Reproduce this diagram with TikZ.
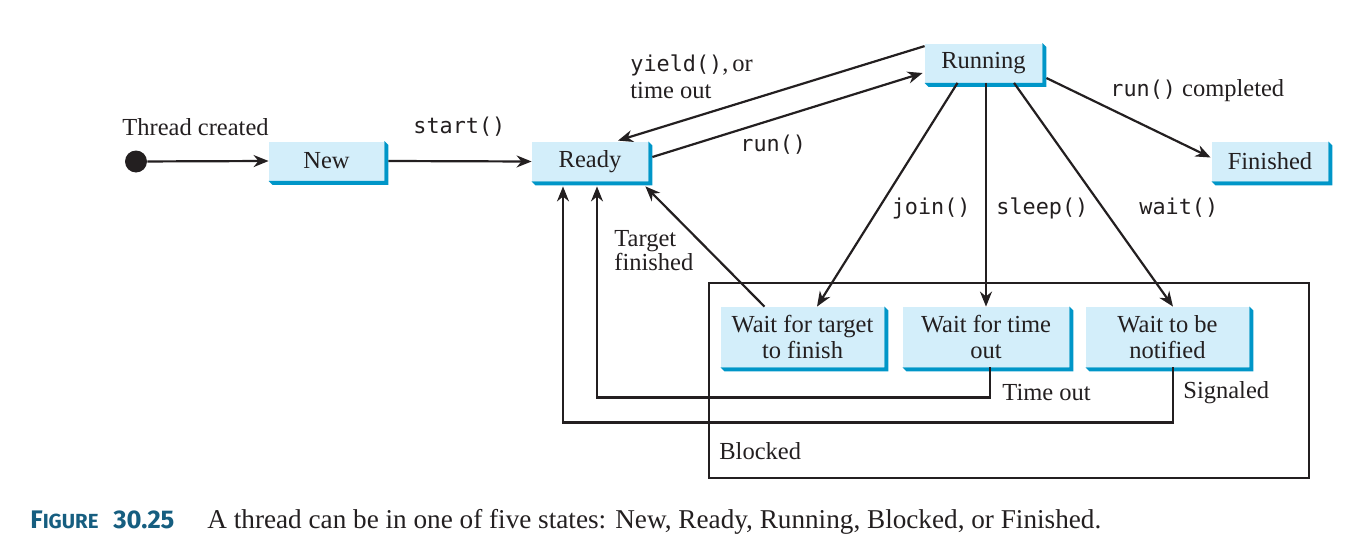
\documentclass[tikz,border=0pt]{standalone}
\usepackage{fontspec}
\setmainfont{Liberation Serif}
\newfontfamily\monof{DejaVu Sans Mono}
\newfontfamily\capf{Fira Sans}
\usetikzlibrary{arrows.meta}
\definecolor{boxfill}{HTML}{D3EEFA}
\definecolor{boxshade}{HTML}{0096C8}
\definecolor{figteal}{HTML}{165E80}
\definecolor{ink}{HTML}{231F20}
\newcommand{\mc}[1]{{\monof\fontsize{10.9}{13}\selectfont #1}}
\newcommand{\shd}[1]{\fill[boxshade] (#1.north east) -- ([shift={(2pt,-2pt)}]#1.north east) -- ([shift={(2pt,-2pt)}]#1.south east) -- ([shift={(2pt,-2pt)}]#1.south west) -- (#1.south west) -- (#1.south east) -- cycle;}
\begin{document}
\begin{tikzpicture}[x=0.5pt,y=-0.5pt,
  state/.style={rectangle, fill=boxfill, inner sep=0pt, text=ink, font=\fontsize{12.25}{13}\selectfont, align=center, minimum height=19.5pt},
  tall/.style={minimum height=30pt},
  lbl/.style={inner sep=0pt, text=ink, font=\fontsize{12.25}{12}\selectfont, align=left},
  conn/.style={draw=ink, line width=1.1pt, -{Stealth[length=7.5pt,width=6pt,inset=2.4pt]}},
  frame/.style={draw=ink, line width=0.9pt, inner sep=0pt},
  figlbl/.style={inner sep=0pt, anchor=base west, text=figteal}
]
\useasboundingbox (0,0) rectangle (1372,557);

% Blocked frame
\node[frame, minimum width=300pt, minimum height=97.5pt] (blk) at (1009,380.5) {};
\node[lbl, anchor=west] (blkl) at (719,451) {Blocked};

% states
\node[circle, fill=ink, minimum size=11pt, inner sep=0pt] (start) at (136,161.5) {};
\node[state, minimum width=57.5pt] (new) at (326.5,161) {New};
\node[state, minimum width=58pt] (ready) at (590,161.5) {Ready};
\node[state, minimum width=58.5pt] (running) at (983.5,63) {Running};
\node[state, minimum width=58pt] (finished) at (1270,161.5) {Finished};
\node[state, tall, minimum width=81.5pt] (target) at (802.5,337) {Wait for target\\to finish};
\node[state, tall, minimum width=83pt] (timeout) at (986,337) {Wait for time\\out};
\node[state, tall, minimum width=81.5pt] (notified) at (1167.5,337) {Wait to be\\notified};
\foreach \n in {new,ready,running,finished,target,timeout,notified} {\shd{\n}}

% connectors
\draw[conn] (start) -- (new.west);
\draw[conn] ([xshift=2pt]new.east) -- (ready.west);
\draw[conn] ([yshift=-1.5pt]running.north west) -- ([shift={(14pt,0.5pt)}]ready.north);
\draw[conn] ([shift={(2pt,2.25pt)}]ready.east) -- ([shift={(-1pt,-5pt)}]running.west);
\draw[conn] ([shift={(2pt,-7.5pt)}]running.east) -- ([shift={(-0.5pt,2pt)}]finished.west);
\draw[conn] ([xshift=-13pt]running.south) -- ([xshift=7.25pt]target.north);
\draw[conn] ([xshift=1.25pt]running.south) -- (timeout.north);
\draw[conn] ([xshift=15.25pt]running.south) -- ([xshift=2.75pt]notified.north);
\draw[conn] ([xshift=-19pt]target.north) -- ([shift={(-1.5pt,-2.5pt)}]ready.south east);
\draw[conn] ([xshift=2pt]timeout.south) -- ++(0,30) -| ([shift={(3.5pt,-2.5pt)}]ready.south);
\draw[conn] ([xshift=2.75pt]notified.south) -- ++(0,55) -| ([shift={(-13.5pt,-2.5pt)}]ready.south);

% labels
\node[lbl, anchor=west] (lcreated) at (122,127) {Thread created};
\node[lbl, anchor=west] (lstart) at (413,127) {\mc{start()}};
\node[lbl, anchor=west, font=\fontsize{12.25}{13.5}\selectfont] (lyield) at (630,76.5) {\mc{yield()},\,or\\time out};
\node[lbl, anchor=west] (lrun) at (740,145) {\mc{run()}};
\node[lbl, anchor=west] (lcompl) at (1110,91) {\mc{run()} completed};
\node[lbl, anchor=east] (ljoin) at (971,208) {\mc{join()}};
\node[lbl, anchor=west] (lsleep) at (996,208) {\mc{sleep()}};
\node[lbl, anchor=west] (lwait) at (1139,208) {\mc{wait()}};
\node[lbl, anchor=west] (ltarget) at (614,251) {Target\\finished};
\node[lbl, anchor=west] (ltime) at (1002,393) {Time out};
\node[lbl, anchor=west] (lsig) at (1183,393) {Signaled};

% caption
\node[figlbl] (fig) at (30,528)
  {\capf\bfseries\fontsize{12.7}{13}\selectfont F{\fontsize{10.2}{11}\selectfont IGURE}};
\node[figlbl] (fignum) at (113,528)
  {\capf\bfseries\fontsize{12.8}{13}\selectfont 30.25};
\node[inner sep=0pt, anchor=base west, text=ink, font=\fontsize{13.6}{15}\selectfont] (cap) at (207,528)
  {A thread can be in one of five states: New, Ready, Running, Blocked, or Finished.};
\end{tikzpicture}
\end{document}
